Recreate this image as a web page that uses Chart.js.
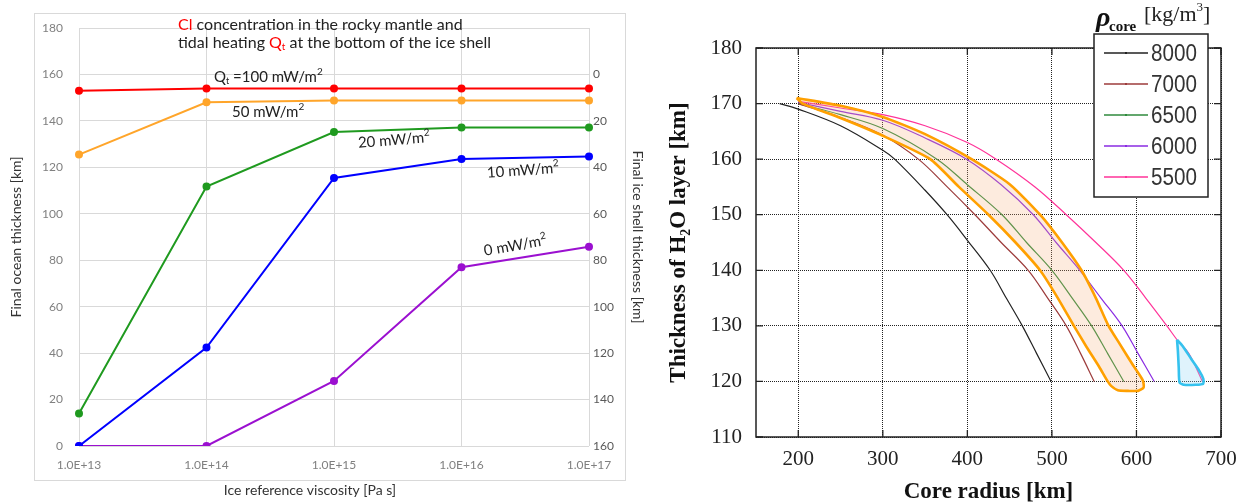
<!DOCTYPE html>
<html>
<head>
<meta charset="utf-8">
<script src="https://cdn.jsdelivr.net/npm/chart.js@4.4.0/dist/chart.umd.min.js"></script>
<style>
  html, body { margin: 0; padding: 0; background: #fff; }
  #wrap { position: relative; width: 1248px; height: 504px; overflow: hidden; }
  #oceanChart { position: absolute; left: 0; top: 0; }
  #coreChart { position: absolute; left: 650px; top: 0; }
</style>
</head>
<body>
<div id="wrap">
  <canvas id="oceanChart" width="650" height="504"></canvas>
  <canvas id="coreChart" width="598" height="504"></canvas>
</div>
<script>
// ---- left panel: ocean thickness vs ice viscosity ----
const viscosityLabels = ['1.0E+13', '1.0E+14', '1.0E+15', '1.0E+16', '1.0E+17'];
const ocean100 = [153, 154, 154, 154, 154];
const ocean50 = [125.5, 148, 148.8, 148.8, 148.8];
const ocean20 = [14, 111.7, 135.2, 137.2, 137.2];
const ocean10 = [0, 42.4, 115.4, 123.6, 124.7];
const ocean0 = [0, 0, 28, 77, 85.8];
const oceanTicks = [0, 20, 40, 60, 80, 100, 120, 140, 160, 180];
const shellTicks = [0, 20, 40, 60, 80, 100, 120, 140, 160];

// ---- right panel: H2O layer thickness vs core radius ----
const r8000 = [178, 200, 250, 300, 314, 350, 376, 400, 427, 446, 465, 482, 499];
const h8000 = [170, 169, 166, 161.6, 160, 154.4, 150, 145.4, 140, 135, 130, 125, 120];
const r7000 = [200, 250, 300, 342, 375, 409, 440, 472, 495, 517, 534, 550];
const h7000 = [170, 167.5, 164.3, 160, 155.2, 150, 145, 140, 135, 130, 125, 120];
const r6500 = [200, 250, 300, 364, 400, 441, 470, 500, 524, 547, 566, 585];
const h6500 = [170, 168, 165.5, 160, 155.4, 150, 145, 140, 135, 130, 125, 120];
const r6000 = [200, 250, 300, 350, 399, 440, 478, 505, 533, 558, 583, 602, 621];
const h6000 = [170.2, 168.6, 167, 163.8, 160, 155.4, 150, 145, 140, 135, 130, 125, 120];
const r5500 = [200, 250, 300, 350, 400, 434, 480, 517, 552, 585, 611, 636, 648, 662, 678];
const h5500 = [170.4, 169.2, 168, 166, 163, 160, 155, 150, 145, 140, 135, 130, 127.5, 125, 120];
// outlined regions
const rBand = [198, 250, 300, 350, 405, 450, 486, 512, 535, 552, 567, 580, 596, 607.5, 608.5, 602, 590, 578, 570, 566, 556, 541, 526, 507, 486, 457, 425, 390, 356, 300, 250, 205, 198];
const hBand = [171, 169.6, 167.6, 164.5, 160, 155.5, 150, 145, 140, 135, 130, 126.8, 122.9, 120.2, 118.9, 118.3, 118.3, 118.4, 119.2, 120, 122.6, 126.2, 130, 135, 140, 145, 150, 155, 160, 164.2, 167.4, 170, 171];
const rPatch = [648, 655, 665, 674, 679, 679, 670, 656, 651, 650, 649, 648];
const hPatch = [127.5, 126.3, 124, 122, 120.5, 119.6, 119.4, 119.4, 119.8, 122.5, 125.5, 127.5];
const radiusTicks = [200, 300, 400, 500, 600, 700];
const thicknessTicks = [110, 120, 130, 140, 150, 160, 170, 180];

const zip = (xs, ys) => xs.map((x, i) => ({ x, y: ys[i] }));

// draw a row of text pieces one after another (for sub/superscripts)
function drawRuns(ctx, x, y, runs, size, family) {
  runs.forEach(r => {
    const s = r.size || size;
    ctx.font = (r.weight || '') + ' ' + (r.style || '') + ' ' + s + 'px ' + (r.family || family);
    ctx.fillStyle = r.color || '#222';
    ctx.fillText(r.t, x, y + (r.dy || 0));
    x += ctx.measureText(r.t).width;
  });
}

const sup2 = { t: '2', size: 10, dy: -5 };

const oceanNotes = {
  id: 'oceanNotes',
  beforeDraw(chart) {
    const ctx = chart.ctx;
    ctx.save();
    ctx.strokeStyle = '#d9d9d9';
    ctx.lineWidth = 1;
    ctx.strokeRect(34.5, 13.5, 591, 467);
    ctx.restore();
  },
  afterDraw(chart) {
    const ctx = chart.ctx;
    ctx.save();
    ctx.textBaseline = 'middle';
    ctx.textAlign = 'left';
    drawRuns(ctx, 178, 25, [{ t: 'Cl', color: '#ff0000' }, { t: ' concentration in the rocky mantle and' }], 16, 'Lato');
    drawRuns(ctx, 178, 43, [{ t: 'tidal heating ' }, { t: 'Q', color: '#ff0000' }, { t: 't', color: '#ff0000', size: 10, dy: 4 },
      { t: ' at the bottom of the ice shell' }], 16, 'Lato');

    // curve labels: [x, y, angle, runs]
    const notes = [
      [214, 77, 0, [{ t: 'Q' }, { t: 't', size: 9, dy: 4 }, { t: ' =100 mW/m' }, sup2]],
      [232, 112, 0, [{ t: '50 mW/m' }, sup2]],
      [358, 143, -0.08, [{ t: '20 mW/m' }, sup2]],
      [487, 173, -0.07, [{ t: '10 mW/m' }, sup2]],
      [484, 251, -0.17, [{ t: '0 mW/m' }, sup2]]
    ];
    notes.forEach(([x, y, a, runs]) => {
      ctx.save();
      ctx.translate(x, y);
      ctx.rotate(a);
      drawRuns(ctx, 0, 0, runs, 15, 'Lato');
      ctx.restore();
    });

    ctx.textAlign = 'center';
    ctx.font = '14px Lato';
    ctx.fillStyle = '#333';
    ctx.fillText('Ice reference viscosity [Pa s]', 310, 490);
    ctx.restore();
  }
};

const mkOcean = (label, data, color) => ({
  label, data,
  borderColor: color, backgroundColor: color,
  borderWidth: 2, pointRadius: 3, pointHoverRadius: 3,
  tension: 0, yAxisID: 'y'
});

new Chart(document.getElementById('oceanChart'), {
  type: 'line',
  data: {
    labels: viscosityLabels,
    datasets: [
      mkOcean('100 mW/m2', ocean100, '#ff0000'),
      mkOcean('50 mW/m2', ocean50, '#ffa52a'),
      mkOcean('20 mW/m2', ocean20, '#1f9a1f'),
      mkOcean('10 mW/m2', ocean10, '#0000ff'),
      mkOcean('0 mW/m2', ocean0, '#9b10d0')
    ]
  },
  options: {
    responsive: false,
    animation: false,
    layout: { padding: { top: 28, left: 0, right: 0, bottom: 0 }, autoPadding: false },
    plugins: { legend: { display: false }, tooltip: { enabled: false } },
    scales: {
      x: {
        type: 'category',
        offset: false,
        grid: { color: '#d9d9d9', drawTicks: false },
        border: { display: false },
        ticks: { color: '#808080', font: { family: 'Lato', size: 12 }, padding: 12, maxRotation: 0 },
        afterFit: s => { s.height = 58; }
      },
      y: {
        position: 'left',
        min: 0, max: 180,
        afterBuildTicks: s => { s.ticks = oceanTicks.map(v => ({ value: v })); },
        grid: { color: '#d9d9d9', drawTicks: false },
        border: { display: false },
        ticks: { color: '#808080', font: { family: 'Lato', size: 12 }, padding: 16 },
        title: {
          display: true, text: 'Final ocean thickness [km]', color: '#333',
          font: { family: 'Lato', size: 14 }, padding: { top: 8, bottom: 0 }
        },
        afterFit: s => { s.width = 79; }
      },
      y2: {
        position: 'right',
        reverse: true,
        min: -20, max: 160,
        afterBuildTicks: s => { s.ticks = shellTicks.map(v => ({ value: v })); },
        grid: { display: false, drawTicks: false },
        border: { display: false },
        ticks: { color: '#595959', font: { family: 'Lato', size: 12 }, padding: 4 },
        title: {
          display: true, text: 'Final ice shell thickness [km]', color: '#333',
          font: { family: 'Lato', size: 14 }, padding: { top: 4, bottom: 0 }
        },
        afterFit: s => { s.width = 61; }
      }
    }
  },
  plugins: [oceanNotes]
});

// ---- right chart ----
const serif = '"Liberation Serif", "Times New Roman", serif';

const coreFrame = {
  id: 'coreFrame',
  afterDraw(chart) {
    const { ctx, chartArea: a, scales } = chart;
    ctx.save();
    ctx.strokeStyle = '#222';
    ctx.lineWidth = 1.5;
    ctx.strokeRect(a.left, a.top, a.right - a.left, a.bottom - a.top);

    // inward tick marks on all four sides
    ctx.lineWidth = 1.3;
    ctx.beginPath();
    radiusTicks.forEach(v => {
      const px = scales.x.getPixelForValue(v);
      ctx.moveTo(px, a.bottom); ctx.lineTo(px, a.bottom - 7);
      ctx.moveTo(px, a.top); ctx.lineTo(px, a.top + 7);
    });
    thicknessTicks.forEach(v => {
      const py = scales.y.getPixelForValue(v);
      ctx.moveTo(a.left, py); ctx.lineTo(a.left + 7, py);
      ctx.moveTo(a.right, py); ctx.lineTo(a.right - 7, py);
    });
    ctx.stroke();

    // legend box
    const lx = 444, ly = 34, lw = 114, lh = 163;
    ctx.fillStyle = '#fff';
    ctx.fillRect(lx, ly, lw, lh);
    ctx.lineWidth = 1.5;
    ctx.strokeStyle = '#222';
    ctx.strokeRect(lx, ly, lw, lh);
    ctx.textBaseline = 'middle';
    ctx.textAlign = 'left';
    chart.data.datasets.filter(d => d.inLegend).forEach((d, i) => {
      const y = 53 + i * 31;
      ctx.strokeStyle = d.borderColor;
      ctx.lineWidth = 1.3;
      ctx.beginPath();
      ctx.moveTo(454, y); ctx.lineTo(498, y);
      ctx.stroke();
      ctx.fillStyle = d.borderColor;
      ctx.fillRect(475, y - 1, 2, 2);
      ctx.save();
      ctx.translate(501, y + 1);
      ctx.scale(0.86, 1);
      ctx.fillStyle = '#333';
      ctx.font = '24px "Liberation Sans", sans-serif';
      ctx.fillText(d.label, 0, 0);
      ctx.restore();
    });

    // legend title: rho_core [kg/m3]
    ctx.fillStyle = '#111';
    ctx.font = 'italic bold 28px ' + serif;
    ctx.fillText('ρ', 446, 19);
    ctx.font = 'bold 15px ' + serif;
    ctx.fillText('core', 459, 27);
    drawRuns(ctx, 494, 15, [{ t: '[kg/m' }, { t: '3', size: 13, dy: -7 }, { t: ']' }], 22, serif);
    ctx.restore();
  }
};

const mkCore = (label, xs, ys, color) => ({
  label, data: zip(xs, ys), inLegend: true, showLine: true,
  borderColor: color, backgroundColor: color,
  borderWidth: 1.2, pointRadius: 0, tension: 0.35, fill: false
});

new Chart(document.getElementById('coreChart'), {
  type: 'scatter',
  data: {
    datasets: [
      {
        label: 'band', data: zip(rBand, hBand), showLine: true,
        borderColor: '#ffa000', backgroundColor: 'rgba(248, 175, 125, 0.25)',
        borderWidth: 2.6, pointRadius: 0, tension: 0.2, fill: 'shape'
      },
      {
        label: 'patch', data: zip(rPatch, hPatch), showLine: true,
        borderColor: '#35c2ee', backgroundColor: 'rgba(150, 215, 245, 0.3)',
        borderWidth: 2.6, pointRadius: 0, tension: 0.2, fill: 'shape'
      },
      mkCore('8000', r8000, h8000, '#222222'),
      mkCore('7000', r7000, h7000, '#9c3b3b'),
      mkCore('6500', r6500, h6500, '#2f8a3c'),
      mkCore('6000', r6000, h6000, '#8a2be2'),
      mkCore('5500', r5500, h5500, '#ff3399')
    ]
  },
  options: {
    responsive: false,
    animation: false,
    layout: { padding: { top: 48, right: 27, left: 0, bottom: 0 }, autoPadding: false },
    plugins: { legend: { display: false }, tooltip: { enabled: false } },
    scales: {
      x: {
        type: 'linear',
        min: 150, max: 700,
        afterBuildTicks: s => { s.ticks = radiusTicks.map(v => ({ value: v })); },
        grid: { color: '#222', lineWidth: 1, drawTicks: false },
        border: { display: false, dash: [1, 1] },
        ticks: { color: '#222', font: { family: serif, size: 21 }, padding: 10 },
        title: {
          display: true, text: 'Core radius [km]', color: '#111',
          font: { family: serif, size: 23, weight: 'bold', lineHeight: 1 },
          padding: { top: 0, bottom: 0 }
        },
        afterFit: s => { s.height = 67; }
      },
      y: {
        type: 'linear',
        min: 110, max: 180,
        afterBuildTicks: s => { s.ticks = thicknessTicks.map(v => ({ value: v })); },
        grid: { color: '#222', lineWidth: 1, drawTicks: false },
        border: { display: false, dash: [1, 1] },
        ticks: { color: '#222', font: { family: serif, size: 21 }, padding: 14 },
        title: {
          display: true, text: 'Thickness of H₂O layer [km]', color: '#111',
          font: { family: serif, size: 23, weight: 'bold', lineHeight: 1 },
          padding: { top: 18, bottom: 0 }
        },
        afterFit: s => { s.width = 106; }
      }
    }
  },
  plugins: [coreFrame]
});
</script>
</body>
</html>
